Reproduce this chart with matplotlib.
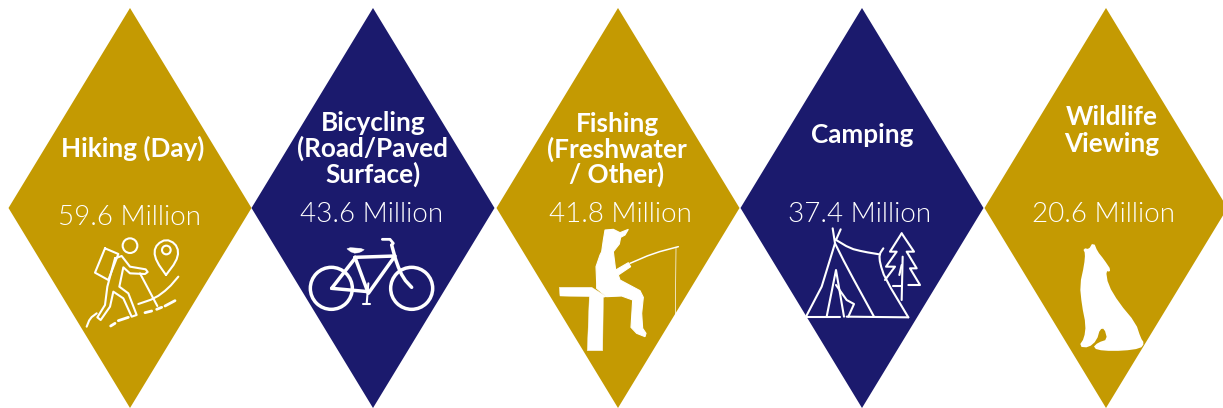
import os
import matplotlib
matplotlib.use('Agg')
import matplotlib.pyplot as plt
from matplotlib import font_manager
from matplotlib.patches import Circle, Polygon

plt.rcParams['font.family'] = ['Lato', 'DejaVu Sans']

activities = [
    ['Hiking (Day)'],
    ['Bicycling', '(Road/Paved', 'Surface)'],
    ['Fishing', '(Freshwater', '/ Other)'],
    ['Camping'],
    ['Wildlife', 'Viewing'],
]
participants = [59.6, 43.6, 41.8, 37.4, 20.6]

GOLD = '#C49A02'
NAVY = '#1B1A6D'
fills = [GOLD, NAVY, GOLD, NAVY, GOLD]

# layout, in pixels from the top left corner
centers = [130, 373, 618, 862, 1106]
half_w = 121.5
top, bottom = 8, 408
name_x = [133, 373, 617, 862, 1112]
name_base = [[157], [131, 157, 183], [132, 158, 183], [143], [125, 152]]
value_x = [130, 372, 620, 860, 1104]
value_base = [225, 222, 222, 222, 222]

fig = plt.figure(figsize=(12.23, 4.08), dpi=100)
ax = fig.add_axes([0, 0, 1, 1])
ax.set_xlim(0, 1223)
ax.set_ylim(408, 0)
ax.axis('off')


def value_font():
    # weight lookup lands on the hairline cut, so take the light file by name
    for f in font_manager.fontManager.ttflist:
        if os.path.basename(f.fname).lower() == 'lato-light.ttf':
            return font_manager.FontProperties(fname=f.fname, size=20)
    return font_manager.FontProperties(family='Lato', size=19.5)


def scaled(pts, o):
    # icon outlines are sketched at 3x, with their origin at o
    return [(o[0] + x / 3, o[1] + y / 3) for x, y in pts]


def rounded(pts, closed=False):
    # one pass of corner cutting, takes the edge off the outlines
    out = [] if closed else [pts[0]]
    n = len(pts)
    for i in range(n if closed else n - 1):
        a, b = pts[i], pts[(i + 1) % n]
        out.append((0.75 * a[0] + 0.25 * b[0], 0.75 * a[1] + 0.25 * b[1]))
        out.append((0.25 * a[0] + 0.75 * b[0], 0.25 * a[1] + 0.75 * b[1]))
    if not closed:
        out.append(pts[-1])
    return out


def stroke(pts, o, lw=1.5, smooth=False):
    if smooth:
        pts = rounded(pts)
    xy = scaled(pts, o)
    ax.plot([p[0] for p in xy], [p[1] for p in xy], color='white', lw=lw,
            solid_capstyle='round', solid_joinstyle='round', zorder=3)


def solid(pts, o, smooth=False, edge=0.3):
    if smooth:
        pts = rounded(pts, closed=True)
    ax.add_patch(Polygon(scaled(pts, o), closed=True, fc='white',
                         ec='white', lw=edge, zorder=3))


def ring(x, y, r, o, lw=1.5):
    cx, cy = scaled([(x, y)], o)[0]
    ax.add_patch(Circle((cx, cy), r / 3, fc='none', ec='white', lw=lw, zorder=3))


def hiker():
    o = (80, 230)
    ring(150, 47, 22, o)
    # map pin
    stroke([(258, 135), (230, 95), (222, 65), (232, 42), (258, 28), (285, 40),
            (296, 65), (288, 95), (258, 135)], o, smooth=True)
    ring(259, 60, 13, o)
    # backpack
    stroke([(75, 55), (115, 72), (85, 150), (45, 128), (75, 55)], o)
    # body and legs
    stroke([(105, 85), (125, 78), (150, 110), (197, 118), (203, 126), (195, 132), (150, 130),
            (130, 112), (118, 170), (145, 190), (170, 255), (155, 260), (130, 205),
            (100, 185), (90, 230), (62, 270), (52, 262), (75, 225), (82, 170), (105, 85)], o)
    # pole
    stroke([(180, 130), (232, 228)], o)
    # slope and dashed path
    stroke([(295, 140), (265, 175), (225, 205), (175, 222)], o, smooth=True)
    stroke([(50, 250), (30, 265), (20, 290)], o, smooth=True)
    for seg in [[(92, 288), (105, 280)], [(115, 272), (145, 262)], [(195, 248), (215, 243)],
                [(230, 238), (245, 232)], [(255, 228), (285, 212)]]:
        stroke(seg, o, lw=2)


def bicycle():
    o = (300, 230)
    lw = 2.5
    ring(94, 175, 63, o, lw=lw)
    ring(335, 175, 63, o, lw=lw)
    # frame
    stroke([(165, 82), (205, 190), (285, 78), (165, 82)], o, lw=lw)
    stroke([(95, 175), (205, 185)], o, lw=lw)
    stroke([(95, 175), (165, 85)], o, lw=lw)
    # fork and handlebar
    stroke([(275, 45), (290, 100), (310, 145), (335, 172)], o, lw=lw, smooth=True)
    stroke([(247, 28), (270, 28), (280, 40), (275, 45)], o, lw=2)
    # saddle
    solid([(135, 52), (197, 56), (180, 68), (158, 70)], o, smooth=True)
    # crank and pedal
    stroke([(205, 160), (200, 222)], o)
    stroke([(190, 223), (210, 223)], o)


def fisher():
    o = (550, 220)
    # jetty
    solid([(28, 202), (125, 202), (170, 230), (160, 232), (158, 392), (112, 392),
           (118, 230), (30, 228)], o)
    # boy
    solid([(155, 95), (160, 60), (165, 30), (190, 28), (210, 38), (235, 28), (225, 45),
           (212, 52), (208, 72), (190, 95), (197, 150), (235, 128), (242, 140), (205, 165),
           (210, 180), (270, 212), (280, 232), (275, 280), (278, 325), (288, 340), (285, 350),
           (260, 340), (243, 322), (248, 240), (215, 228), (170, 230), (140, 205),
           (140, 190), (138, 140), (150, 105)], o, edge=0.8)
    # rod and line
    stroke([(240, 130), (310, 100), (385, 80)], o, lw=1.1, smooth=True)
    stroke([(378, 85), (376, 285)], o, lw=0.5)


def tent():
    o = (800, 220)
    stroke([(18, 290), (65, 200), (105, 70), (98, 25)], o)
    stroke([(122, 28), (108, 60)], o)
    stroke([(105, 70), (140, 140), (222, 290)], o, smooth=True)
    stroke([(105, 58), (150, 85), (190, 95), (238, 103)], o, smooth=True)
    stroke([(250, 85), (238, 103), (240, 130), (255, 175), (325, 292)], o, smooth=True)
    stroke([(18, 290), (120, 290)], o)
    stroke([(140, 290), (325, 292)], o)
    # door flaps
    stroke([(80, 290), (108, 150), (132, 290)], o)
    stroke([(108, 195), (140, 240), (162, 252), (145, 290)], o)
    # pine
    stroke([(305, 40), (270, 95), (290, 95), (258, 140), (285, 140), (255, 180)], o)
    stroke([(305, 40), (342, 95), (320, 95), (350, 145), (330, 145), (360, 195), (325, 195)], o)
    stroke([(308, 110), (305, 240)], o)
    stroke([(305, 135), (298, 165)], o)
    stroke([(278, 198), (305, 198)], o)


def wolf():
    o = (1070, 235)
    solid([(70, 25), (80, 50), (100, 75), (122, 108), (105, 105), (112, 150), (145, 205),
           (195, 265), (210, 310), (220, 325), (210, 338), (160, 345), (100, 345), (72, 338),
           (85, 325), (115, 315), (105, 278), (88, 280), (78, 315), (55, 335), (30, 333),
           (45, 310), (50, 270), (38, 210), (32, 150), (45, 90), (48, 55), (42, 42), (58, 45)],
          o, smooth=True, edge=1.2)


vfont = value_font()
for i in range(len(activities)):
    cx = centers[i]
    ax.add_patch(Polygon([(cx - half_w, (top + bottom) / 2), (cx, top),
                          (cx + half_w, (top + bottom) / 2), (cx, bottom)],
                         closed=True, fc=fills[i], ec='none', zorder=1))
    for line, base in zip(activities[i], name_base[i]):
        ax.text(name_x[i], base, line, color='white', fontsize=18.8, fontweight='bold',
                ha='center', va='baseline', zorder=4)
    ax.text(value_x[i], value_base[i], '%.1f Million' % participants[i], color='white',
            fontproperties=vfont, ha='center', va='baseline', zorder=4)

hiker()
bicycle()
fisher()
tent()
wolf()

fig.savefig('out.png', dpi=100, facecolor='white')
